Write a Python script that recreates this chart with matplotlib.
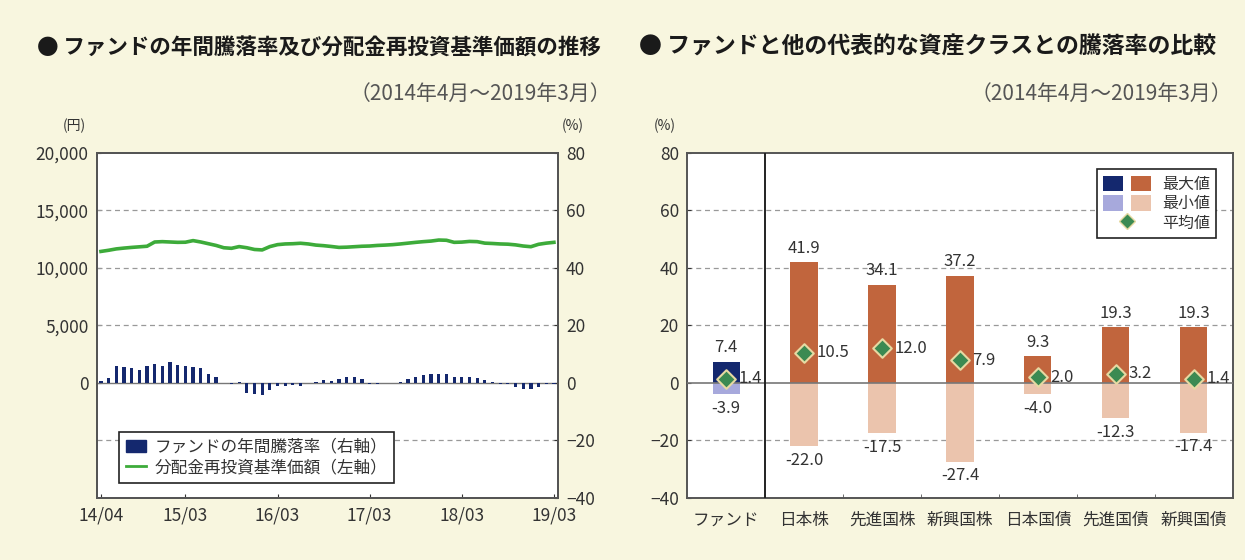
import matplotlib
matplotlib.use("Agg")
import matplotlib.pyplot as plt
from matplotlib.patches import Patch
from matplotlib.lines import Line2D
from matplotlib.legend_handler import HandlerTuple

plt.rcParams["font.family"] = ["Noto Sans CJK JP", "DejaVu Sans"]

# left chart: monthly data 2014/04 - 2019/03
nav = [
    11430, 11530, 11650, 11720, 11780, 11830, 11880, 12250, 12280, 12250,
    12220, 12230, 12370, 12250, 12100, 11950, 11750, 11700, 11850, 11750,
    11600, 11560, 11850, 12020, 12080, 12100, 12140, 12080, 11980, 11930,
    11860, 11780, 11800, 11840, 11880, 11900, 11950, 11980, 12020, 12080,
    12150, 12220, 12280, 12330, 12420, 12400, 12220, 12240, 12300, 12280,
    12150, 12120, 12080, 12060, 12000, 11900, 11840, 12050, 12150, 12220,
]
annual_return = [
    0.6, 1.8, 5.8, 5.5, 5.3, 4.3, 5.8, 6.4, 5.8, 7.4,
    6.2, 5.8, 5.5, 5.0, 3.2, 2.0, 0.0, -0.3, 0.2, -3.5,
    -3.9, -4.3, -2.5, -1.0, -1.0, -0.8, -1.0, 0.0, 0.3, 1.0,
    0.8, 1.5, 2.1, 1.9, 1.2, -0.3, -0.3, -0.2, -0.2, 0.2,
    1.2, 2.1, 2.7, 3.0, 3.0, 3.0, 2.1, 1.9, 1.9, 1.6,
    0.9, 0.4, -0.3, -0.4, -1.4, -2.0, -2.3, -1.4, -0.5, -0.3,
]
month_ticks = [0, 11, 23, 35, 47, 59]
month_labels = ["14/04", "15/03", "16/03", "17/03", "18/03", "19/03"]

# right chart
classes = ["ファンド", "日本株", "先進国株", "新興国株", "日本国債", "先進国債", "新興国債"]
max_vals = [7.4, 41.9, 34.1, 37.2, 9.3, 19.3, 19.3]
min_vals = [-3.9, -22.0, -17.5, -27.4, -4.0, -12.3, -17.4]
avg_vals = [1.4, 10.5, 12.0, 7.9, 2.0, 3.2, 1.4]

BG = "#f8f6df"
TXT = "#333333"
NAVY = "#14286e"
GREEN = "#3dab3a"

fig = plt.figure(figsize=(12.45, 5.6), dpi=100, facecolor=BG)

# titles
fig.text(0.030, 0.915, "● ファンドの年間騰落率及び分配金再投資基準価額の推移",
         fontsize=15.5, fontweight="bold", color="#1a1a1a", va="center")
fig.text(0.491, 0.832, "（2014年4月～2019年3月）", fontsize=15, color="#555555",
         ha="right", va="center")
fig.text(0.513, 0.915, "● ファンドと他の代表的な資産クラスとの騰落率の比較",
         fontsize=16.5, fontweight="bold", color="#1a1a1a", va="center")
fig.text(0.990, 0.832, "（2014年4月～2019年3月）", fontsize=15, color="#555555",
         ha="right", va="center")

# ---- left chart ----
ax = fig.add_axes([0.078, 0.111, 0.370, 0.616])
ax.set_facecolor("white")
ax2 = ax.twinx()
x = list(range(len(nav)))

ax.plot(x, nav, color=GREEN, lw=2.6, zorder=3)
ax.set_ylim(-10000, 20000)
ax.set_yticks([0, 5000, 10000, 15000, 20000])
ax.set_yticklabels(["0", "5,000", "10,000", "15,000", "20,000"])
ax.set_xlim(-0.5, 59.5)
ax.set_xticks(month_ticks)
ax.set_xticklabels(month_labels)

ax2.bar(x, annual_return, width=0.42, color=NAVY, zorder=2)
ax2.set_ylim(-40, 80)
ax2.set_yticks(range(-40, 81, 20))
for v in [60, 40, 20, -20]:
    ax2.axhline(v, color="#999999", lw=0.9, ls=(0, (4, 3)), zorder=0)
ax2.axhline(0, color="#777777", lw=1.0, zorder=1)

for a in (ax, ax2):
    a.tick_params(direction="in", length=3, labelsize=12.5, colors=TXT, pad=6)
    for s in a.spines.values():
        s.set_color("#555555")
        s.set_linewidth(1.4)

fig.text(0.060, 0.768, "(円)", fontsize=10, color=TXT, ha="center")
fig.text(0.460, 0.768, "(%)", fontsize=10, color=TXT, ha="center")

leg_handles = [Patch(facecolor=NAVY, edgecolor=NAVY),
               Line2D([0], [0], color=GREEN, lw=2)]
leg = ax2.legend(leg_handles, ["ファンドの年間騰落率（右軸）", "分配金再投資基準価額（左軸）"],
                 loc="lower left", bbox_to_anchor=(0.03, 0.02), fontsize=12,
                 frameon=True, fancybox=False, framealpha=1, edgecolor="#222222",
                 handlelength=1.2, handletextpad=0.5, borderpad=0.4, labelspacing=0.2,
                 labelcolor=TXT)
leg.get_frame().set_linewidth(1.2)

# ---- right chart ----
bx = fig.add_axes([0.552, 0.111, 0.438, 0.616])
bx.set_facecolor("white")
pos = list(range(len(classes)))
max_colors = [NAVY] + ["#c1653d"] * 6
min_colors = ["#a7a9dc"] + ["#ebc4ad"] * 6

for v in [60, 40, 20, -20]:
    bx.axhline(v, color="#999999", lw=0.9, ls=(0, (4, 3)), zorder=0)
bx.bar(pos, max_vals, width=0.35, color=max_colors, zorder=2)
bx.bar(pos, min_vals, width=0.35, color=min_colors, zorder=2)
bx.axhline(0, color="#777777", lw=1.2, zorder=3)
bx.scatter(pos, avg_vals, marker="D", s=90, color="#3b8a52", edgecolor="#e6d9a2",
           linewidth=1.5, zorder=4)
bx.axvline(0.5, color="#222222", lw=1.4, zorder=3)

for p, hi, lo, av in zip(pos, max_vals, min_vals, avg_vals):
    bx.annotate(f"{hi:.1f}", (p, hi), xytext=(0, 4), textcoords="offset points",
                ha="center", va="bottom", fontsize=12, color=TXT)
    bx.annotate(f"{lo:.1f}", (p, lo), xytext=(0, -4), textcoords="offset points",
                ha="center", va="top", fontsize=12, color=TXT)
    bx.annotate(f"{av:.1f}", (p, av), xytext=(9, 0), textcoords="offset points",
                ha="left", va="center", fontsize=12, color=TXT)

bx.set_xlim(-0.5, 6.5)
bx.set_ylim(-40, 80)
bx.set_yticks(range(-40, 81, 20))
bx.set_xticks(pos)
bx.set_xticklabels(classes)
bx.set_xticks([p + 0.5 for p in pos[:-1]], minor=True)
bx.tick_params(axis="x", which="major", length=0, labelsize=12, colors=TXT, pad=10)
bx.tick_params(axis="x", which="minor", direction="in", length=3, color="#555555")
bx.tick_params(axis="y", direction="in", length=3, labelsize=12.5, colors=TXT, pad=6)
for s in bx.spines.values():
    s.set_color("#555555")
    s.set_linewidth(1.4)

fig.text(0.534, 0.768, "(%)", fontsize=10, color=TXT, ha="center")

leg2 = bx.legend(
    [(Patch(facecolor=NAVY), Patch(facecolor="#c1653d")),
     (Patch(facecolor="#a7a9dc"), Patch(facecolor="#ebc4ad")),
     Line2D([0], [0], marker="D", ls="none", markersize=8, color="#3b8a52",
            markeredgecolor="#e6d9a2")],
    ["最大値", "最小値", "平均値"],
    handler_map={tuple: HandlerTuple(ndivide=None, pad=0.5)},
    loc="upper right", bbox_to_anchor=(0.985, 0.975), fontsize=11.5,
    frameon=True, fancybox=False, framealpha=1, edgecolor="#222222",
    handlelength=3.0, handleheight=1.1, handletextpad=0.7, borderpad=0.4,
    labelspacing=0.15, labelcolor=TXT)
leg2.get_frame().set_linewidth(1.2)

fig.savefig("out.png", dpi=100, facecolor=BG)
